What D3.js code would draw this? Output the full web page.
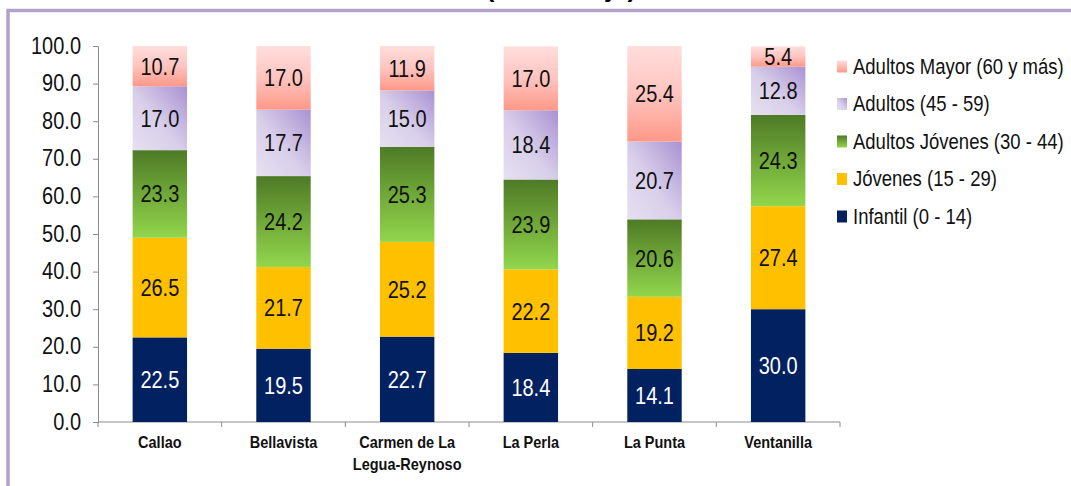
<!DOCTYPE html>
<html>
<head>
<meta charset="utf-8">
<script src="https://cdn.jsdelivr.net/npm/d3@7"></script>
<style>
  body { margin: 0; background: #fff; }
  svg { display: block; font-family: Arial, "Liberation Sans", sans-serif; }
</style>
</head>
<body>
<svg id="chart"></svg>
<script>
const districts = ["Callao", "Bellavista", "Carmen de La Legua-Reynoso", "La Perla", "La Punta", "Ventanilla"];
const groups = ["Infantil (0 - 14)", "Jóvenes (15 - 29)", "Adultos Jóvenes (30 - 44)", "Adultos (45 - 59)", "Adultos Mayor (60 y más)"];
const infantil = [22.5, 19.5, 22.7, 18.4, 14.1, 30.0];
const jovenes = [26.5, 21.7, 25.2, 22.2, 19.2, 27.4];
const adultosJovenes = [23.3, 24.2, 25.3, 23.9, 20.6, 24.3];
const adultos = [17.0, 17.7, 15.0, 18.4, 20.7, 12.8];
const adultosMayor = [10.7, 17.0, 11.9, 17.0, 25.4, 5.4];
const yTicks = [0, 10, 20, 30, 40, 50, 60, 70, 80, 90, 100];

const width = 1071;
const height = 486;
const stretch = 1.18; // text in the picture is drawn a bit taller than wide

const svg = d3.select("#chart").attr("width", width).attr("height", height);

// table for d3.stack
const series = [infantil, jovenes, adultosJovenes, adultos, adultosMayor];
const table = districts.map((d, i) => {
  const row = { district: d };
  groups.forEach((g, j) => { row[g] = series[j][i]; });
  return row;
});
const stacked = d3.stack().keys(groups)(table);

// gradients, roughly like the office fills
const defs = svg.append("defs");
function grad(id, x1, y1, x2, y2, stops) {
  const g = defs.append("linearGradient").attr("id", id)
    .attr("x1", x1).attr("y1", y1).attr("x2", x2).attr("y2", y2);
  stops.forEach(s => g.append("stop").attr("offset", s[0]).attr("stop-color", s[1]));
}
grad("gGreen", 0, 0, 0, 1, [[0, "#4e7a26"], [1, "#92d64c"]]);
grad("gPurple", 0, 1, 1, 0, [[0, "#e6e0f0"], [0.45, "#d9cfea"], [1, "#a992d2"]]);
grad("gPink", 0, 0, 0, 1, [[0, "#ffdedc"], [0.5, "#ffc4bf"], [1, "#ff9888"]]);
grad("gPinkLeg", 0, 0, 0, 1, [[0, "#ffdedc"], [1, "#ff9888"]]);

const fills = ["#022160", "#ffc000", "url(#gGreen)", "url(#gPurple)", "url(#gPink)"];
const labelColors = ["#ffffff", "#111", "#111", "#111", "#111"];

function place(sel, px, py) {
  return sel.attr("transform", `translate(${px},${py}) scale(1,${stretch})`);
}

// outer frame (right and bottom edges fall outside the picture)
svg.append("rect")
  .attr("x", 8).attr("y", 10.5)
  .attr("width", 1200).attr("height", 600)
  .attr("fill", "none")
  .attr("stroke", "#b4a2cc")
  .attr("stroke-width", 3.5);

// title, cut off at the top of the picture: only descenders show
svg.append("text")
  .attr("x", 561).attr("y", -3)
  .attr("text-anchor", "middle")
  .attr("font-size", 26)
  .attr("font-weight", "bold")
  .text("(Porcentaje)");

const x = d3.scaleBand()
  .domain(districts)
  .range([98, 840])
  .paddingInner(0.56)
  .paddingOuter(0.28);

const y = d3.scaleLinear()
  .domain([0, 100])
  .range([422, 46]);

// y axis
const yAxis = svg.append("g")
  .attr("transform", "translate(98,0)")
  .call(d3.axisLeft(y).tickValues(yTicks).tickFormat(d3.format(".1f")).tickSize(5).tickPadding(12));
yAxis.selectAll("line, path").attr("stroke", "#8c8c8c");
yAxis.selectAll("text").remove();
yAxis.selectAll(".tick").append("text")
  .attr("text-anchor", "end")
  .attr("font-size", 20)
  .attr("fill", "#111")
  .attr("transform", `translate(-17,7) scale(1,${stretch})`)
  .text(d => d3.format(".1f")(d));

// x axis: ticks between categories
const xAxis = svg.append("g").attr("transform", "translate(0,422)");
xAxis.append("line")
  .attr("x1", 98).attr("x2", 840)
  .attr("stroke", "#8c8c8c");
const bounds = d3.range(districts.length + 1);
xAxis.selectAll("line.tk")
  .data(bounds)
  .enter()
  .append("line")
  .attr("class", "tk")
  .attr("x1", i => 98 + i * x.step())
  .attr("x2", i => 98 + i * x.step())
  .attr("y1", 0).attr("y2", 5)
  .attr("stroke", "#8c8c8c");

districts.forEach(d => {
  const lines = d === "Carmen de La Legua-Reynoso" ? ["Carmen de La", "Legua-Reynoso"] : [d];
  lines.forEach((l, k) => {
    place(svg.append("text"), x(d) + x.bandwidth() / 2, 448 + k * 22)
      .attr("text-anchor", "middle")
      .attr("font-size", 14.5)
      .attr("font-weight", "bold")
      .attr("fill", "#111")
      .text(l);
  });
});

// bars
const layers = svg.selectAll("g.layer")
  .data(stacked)
  .enter()
  .append("g")
  .attr("class", "layer")
  .attr("fill", (s, i) => fills[i]);

layers.selectAll("rect")
  .data(s => s)
  .enter()
  .append("rect")
  .attr("x", d => x(d.data.district))
  .attr("y", d => y(Math.min(d[1], 100)))
  .attr("width", x.bandwidth())
  .attr("height", d => y(d[0]) - y(Math.min(d[1], 100)));

// value labels
layers.selectAll("text")
  .data((s, i) => s.map(d => ({ d: d, i: i, key: s.key })))
  .enter()
  .append("text")
  .attr("transform", o => `translate(${x(o.d.data.district) + x.bandwidth() / 2},${y((o.d[0] + Math.min(o.d[1], 100)) / 2) + 8.5}) scale(1,${stretch})`)
  .attr("text-anchor", "middle")
  .attr("font-size", 20)
  .attr("fill", o => labelColors[o.i])
  .text(o => d3.format(".1f")(o.d.data[o.key]));

// legend, top item first
const legendFills = ["#022160", "#ffc000", "url(#gGreen)", "url(#gPurple)", "url(#gPinkLeg)"];
const legend = svg.append("g");
const order = d3.range(groups.length).reverse();
order.forEach((gi, k) => {
  const cy = 66.5 + k * 37.5;
  legend.append("rect")
    .attr("x", 837).attr("y", cy - 6)
    .attr("width", 10).attr("height", 12)
    .attr("fill", legendFills[gi]);
  place(legend.append("text"), 853, cy + 7)
    .attr("font-size", 18.5)
    .attr("fill", "#111")
    .text(groups[gi]);
});
</script>
</body>
</html>
